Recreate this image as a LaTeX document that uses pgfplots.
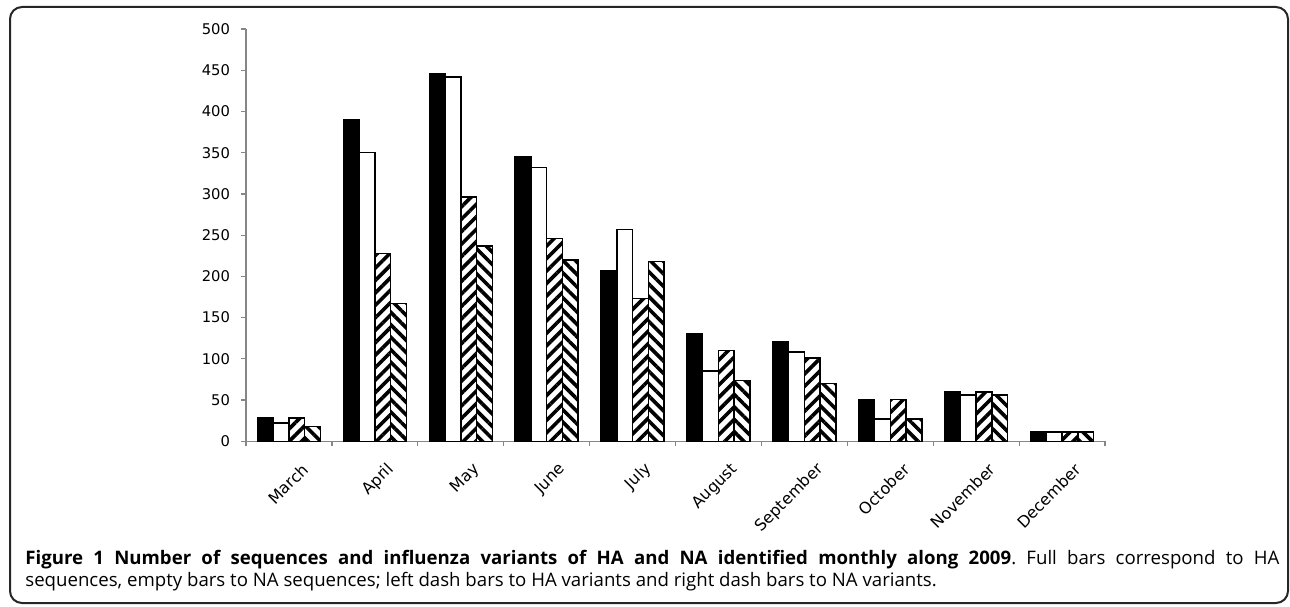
\documentclass[border=0pt]{standalone}
\usepackage{pgfplots}
\pgfplotsset{compat=1.18}
\usetikzlibrary{patterns.meta}
\usepackage{fontspec}
\setmainfont{Open Sans}
\newfontfamily\tickfont{DejaVu Sans}
\definecolor{axisgray}{RGB}{134,134,134}
\frenchspacing

\begin{document}
\begin{tikzpicture}[x=1bp,y=1bp]
\useasboundingbox (0,0) rectangle (645,303);
\draw[line width=1bp, black!85, rounded corners=6bp] (5,1.5) rectangle (644,299.5);
\begin{axis}[
  at={(123bp,82.35bp)}, anchor=south west,
  width=429.5bp, height=206.15bp, scale only axis,
  xmin=-0.5, xmax=9.5, ymin=0, ymax=500,
  ytick={0,50,...,500},
  xtick={0,...,9},
  xticklabels={March,April,May,June,July,August,September,October,November,December},
  minor xtick={-0.5,0.5,...,9.5},
  axis x line*=bottom, axis y line*=left,
  axis line style={axisgray, line width=0.6bp},
  tick align=outside,
  tick style={axisgray, line width=0.6bp},
  major tick length=2.5bp, minor tick length=2.5bp,
  major x tick style={draw=none},
  /pgf/number format/assume math mode=true,
  yticklabel style={font=\tickfont\fontsize{7.4}{8}\selectfont, black, xshift=-2bp},
  xticklabel style={font=\tickfont\fontsize{8}{9}\selectfont, black, rotate=45, anchor=east, yshift=-13bp, xshift=2bp},
  ybar, bar width=7.875bp,
]
\addplot[fill=black, draw=black, line width=0.75bp, bar shift=-11.8125bp] coordinates {
(0,28) (1,390) (2,446) (3,345) (4,207) (5,130) (6,121) (7,51) (8,60) (9,11)};
\addplot[fill=white, draw=black, line width=0.75bp, bar shift=-3.9375bp] coordinates {
(0,22) (1,350) (2,442) (3,332) (4,257) (5,85) (6,108) (7,27) (8,56) (9,11)};
\addplot[fill=white, draw=black, line width=0.75bp, bar shift=3.9375bp,
  postaction={pattern={Lines[angle=45, distance=4.4bp, line width=1.8bp]}, pattern color=black}] coordinates {
(0,28) (1,228) (2,296) (3,246) (4,173) (5,110) (6,101) (7,51) (8,60) (9,11)};
\addplot[fill=white, draw=black, line width=0.75bp, bar shift=11.8125bp,
  postaction={pattern={Lines[angle=-45, distance=4.4bp, line width=1.8bp]}, pattern color=black}] coordinates {
(0,18) (1,167) (2,237) (3,220) (4,218) (5,74) (6,70) (7,27) (8,56) (9,11)};
\end{axis}
\node[anchor=base west, text width=627bp, align=justify, inner sep=0pt,
  font=\fontsize{9.35}{11.5}\selectfont] at (12.5,21)
  {\textbf{Figure 1 Number of sequences and influenza variants of HA and NA identified monthly along 2009}. Full bars correspond to HA\linebreak sequences, empty bars to NA sequences; left dash bars to HA variants and right dash bars to NA variants.};
\end{tikzpicture}
\end{document}
